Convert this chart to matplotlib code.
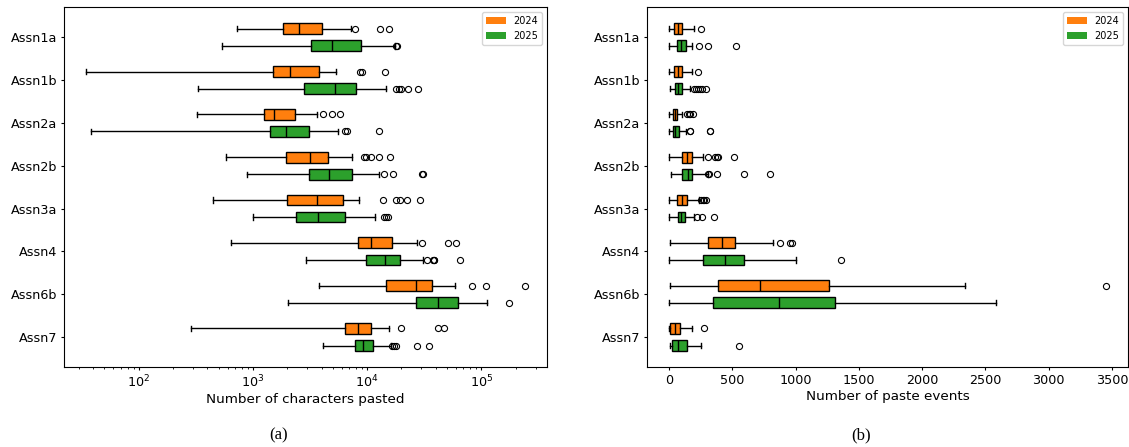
import numpy as np
import matplotlib
matplotlib.use('Agg')
import matplotlib.pyplot as plt
from matplotlib.patches import Patch

assignments = ['Assn1a', 'Assn1b', 'Assn2a', 'Assn2b', 'Assn3a', 'Assn4', 'Assn6b', 'Assn7']
years = ['2024', '2025']
colors = ['#ff7f0e', '#2ca02c']

# box summaries: [whisker low, q1, median, q3, whisker high]
chars_2024 = [
    [730, 1830, 2530, 4050, 7210],
    [34.7, 1496, 2120, 3810, 5330],
    [323, 1250, 1527, 2330, 3640],
    [577, 1960, 3180, 4540, 7360],
    [447, 2000, 3660, 6140, 8430],
    [646, 8320, 10870, 16420, 27300],
    [3810, 14720, 26600, 37200, 58800],
    [288, 6350, 8320, 10870, 15620],
]
chars_2024_fliers = [
    [7870, 13030, 15700],
    [8710, 9070, 14430],
    [4100, 4950, 5740],
    [9500, 9840, 10870, 12700, 15750],
    [13870, 18000, 19640, 22300, 29400],
    [30400, 51700, 59600],
    [83400, 110600, 242400],
    [19900, 41700, 47700],
]
chars_2025 = [
    [532, 3200, 4950, 8890, 17500],
    [332, 2800, 5260, 7980, 14520],
    [37.8, 1400, 1960, 3100, 5520],
    [892, 3080, 4670, 7310, 12700],
    [1000, 2370, 3710, 6350, 11860],
    [2890, 9700, 14420, 19270, 30800],
    [2040, 26600, 42000, 62500, 112900],
    [4100, 7780, 9200, 11250, 16300],
]
chars_2025_fliers = [
    [17900, 18300],
    [18000, 19000, 19900, 22800, 28100],
    [6360, 6660, 12620],
    [14030, 16830, 30500, 31000],
    [14220, 14710, 15200],
    [33400, 37700, 38300, 38800, 64600],
    [177000],
    [16600, 17180, 17780, 27300, 34600],
]

events_2024 = [
    [0, 39, 71, 105, 195],
    [0, 39, 71, 105, 182],
    [0, 29, 45, 63, 105],
    [0, 103, 145, 182, 268],
    [0, 66, 103, 145, 234],
    [11, 308, 418, 524, 821],
    [5, 384, 719, 1263, 2335],
    [2, 11, 45, 87, 179],
]
events_2024_fliers = [
    [250],
    [232],
    [145, 158, 168, 190],
    [308, 363, 378, 386, 513],
    [255, 266, 275, 290],
    [879, 958, 969],
    [3453],
    [279],
]
events_2025 = [
    [0, 63, 97, 132, 184],
    [5, 47, 74, 105, 168],
    [0, 32, 50, 76, 134],
    [18, 105, 147, 184, 306],
    [0, 71, 97, 126, 197],
    [0, 271, 445, 590, 1000],
    [0, 347, 871, 1308, 2585],
    [5, 24, 74, 145, 253],
]
events_2025_fliers = [
    [237, 308, 529],
    [195, 211, 226, 245, 263, 292],
    [166, 170, 324, 328],
    [310, 316, 379, 590, 797],
    [221, 258, 353],
    [1358],
    [],
    [550],
]


def make_stats(boxes, fliers):
    stats = []
    for b, f in zip(boxes, fliers):
        stats.append(dict(whislo=b[0], q1=b[1], med=b[2], q3=b[3], whishi=b[4], fliers=f))
    return stats


def draw_panel(ax, series, xlabel):
    pos = np.arange(1, len(assignments) + 1)
    for (boxes, fliers), offset, color in zip(series, [-0.2, 0.2], colors):
        ax.bxp(make_stats(boxes, fliers), positions=pos + offset, widths=0.25,
               orientation='horizontal', patch_artist=True, manage_ticks=False,
               boxprops=dict(facecolor=color, edgecolor='black', linewidth=1),
               medianprops=dict(color='black', linewidth=1),
               whiskerprops=dict(color='black', linewidth=1),
               capprops=dict(color='black', linewidth=1),
               flierprops=dict(marker='o', markersize=4.4, markerfacecolor='none',
                               markeredgecolor='black', markeredgewidth=0.8))
    ax.set_yticks(pos, assignments)
    ax.set_ylim(8.7, 0.3)
    ax.set_xlabel(xlabel, fontsize=9.7, labelpad=2)
    ax.tick_params(labelsize=9.2, length=2.5, pad=2.5)
    ax.tick_params(which='minor', length=1.5)
    handles = [Patch(facecolor=c, label=y) for c, y in zip(colors, years)]
    ax.legend(handles=handles, loc='upper right', fontsize=7)


fig = plt.figure(figsize=(11.29, 4.47), dpi=100)
ax1 = fig.add_axes([0.0570, 0.179, 0.4275, 0.8047])
ax2 = fig.add_axes([0.5731, 0.179, 0.4260, 0.8047])

ax1.set_xscale('log')
draw_panel(ax1, [(chars_2024, chars_2024_fliers), (chars_2025, chars_2025_fliers)],
           'Number of characters pasted')
draw_panel(ax2, [(events_2024, events_2024_fliers), (events_2025, events_2025_fliers)],
           'Number of paste events')

fig.text(279 / 1129, 1 - 435 / 447, '(a)', ha='center', va='center',
         family='Liberation Serif', fontsize=12)
fig.text(861 / 1129, 1 - 435 / 447, '(b)', ha='center', va='center',
         family='Liberation Serif', fontsize=12)

fig.savefig('out.png', dpi=100)
